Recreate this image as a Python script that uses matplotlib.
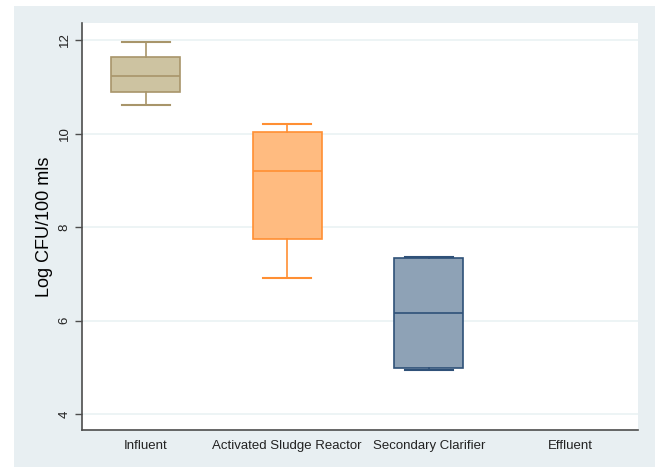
import matplotlib
matplotlib.use('Agg')
import matplotlib.pyplot as plt
from matplotlib.patches import Rectangle

plt.rcParams['font.family'] = ['Liberation Sans', 'DejaVu Sans']

categories = ['Influent', 'Activated Sludge Reactor', 'Secondary Clarifier', 'Effluent']
whislo = [10.60, 6.90, 4.94]
q1 = [10.89, 7.74, 4.98]
med = [11.23, 9.20, 6.16]
q3 = [11.63, 10.04, 7.34]
whishi = [11.95, 10.20, 7.36]
face_colors = ['#cdc3a1', '#ffbb80', '#8ea2b6']
edge_colors = ['#a8956a', '#ff8f33', '#2f5178']

fig = plt.figure(figsize=(6.57, 4.67), dpi=100)
fig.patch.set_facecolor('white')
# stata-style plot region background
bg = Rectangle((14 / 657, 0), 641 / 657, 461 / 467, transform=fig.transFigure,
               facecolor='#e8eff2', edgecolor='none', zorder=-10)
fig.add_artist(bg)

ax = fig.add_axes([0.1243, 0.0792, 0.8467, 0.8722])
ax.set_facecolor('white')

for i in range(len(whislo)):
    stats = [{'whislo': whislo[i], 'q1': q1[i], 'med': med[i], 'q3': q3[i],
              'whishi': whishi[i], 'fliers': []}]
    ec = edge_colors[i]
    ax.bxp(stats, positions=[i + 1], widths=0.49, showfliers=False,
           patch_artist=True,
           boxprops=dict(facecolor=face_colors[i], edgecolor=ec, linewidth=1.2),
           medianprops=dict(color=ec, linewidth=1.2),
           whiskerprops=dict(color=ec, linewidth=1.2),
           capprops=dict(color=ec, linewidth=1.5),
           capwidths=0.34, zorder=3)

ax.set_xlim(0.547, 4.479)
ax.set_ylim(3.658, 12.37)
ax.set_xticks(range(1, len(categories) + 1))
ax.set_xticklabels(categories, fontsize=9.5, color='#222222')
ax.set_yticks([4, 6, 8, 10, 12])
ax.set_yticklabels(['4', '6', '8', '10', '12'], rotation=90, va='center',
                   fontsize=9.5, color='#222222')
ax.tick_params(axis='x', length=0, pad=7)
ax.tick_params(axis='y', length=5, width=1, color='#4d4d4d', pad=3)
ax.set_ylabel('Log CFU/100 mls', fontsize=13, labelpad=4)

ax.grid(axis='y', color='#eaf2f3', linewidth=1.2, zorder=0)
ax.set_axisbelow(True)
for side in ['top', 'right']:
    ax.spines[side].set_visible(False)
for side in ['left', 'bottom']:
    ax.spines[side].set_color('#4d4d4d')
    ax.spines[side].set_linewidth(1.2)

fig.savefig('out.png', dpi=100)
